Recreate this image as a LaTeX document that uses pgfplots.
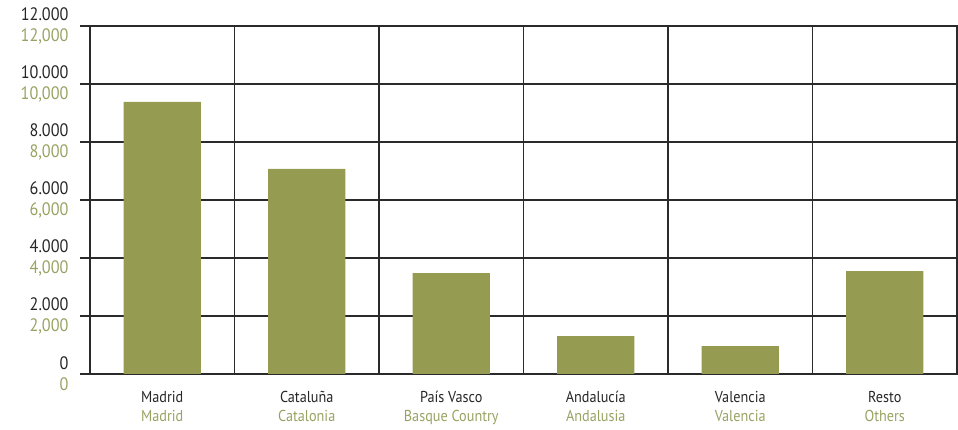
\documentclass[border=0pt]{standalone}
\usepackage{pgfplots}
\pgfplotsset{compat=1.18}
\usepackage{fontspec}
\setmainfont{PT Sans}[FakeStretch=0.9]
\definecolor{barolive}{HTML}{959C52}
\definecolor{labgreen}{HTML}{98A262}
\definecolor{gridgray}{HTML}{2A2A2A}

\begin{document}
\begin{tikzpicture}[x=1pt,y=1pt]
\useasboundingbox (0,0) rectangle (958,430);
\begin{axis}[
    at={(90pt,56pt)}, anchor=south west,
    scale only axis,
    width=867pt, height=348pt,
    xmin=0, xmax=6, ymin=0, ymax=12000,
    scaled y ticks=false,
    axis line style={gridgray, line width=1.1pt},
    xtick={0.5,1.5,2.5,3.5,4.5,5.5},
    xticklabels={
        {Madrid\\\textcolor{labgreen}{Madrid}},
        {Cataluña\\\textcolor{labgreen}{Catalonia}},
        {País Vasco\\\textcolor{labgreen}{Basque Country}},
        {Andalucía\\\textcolor{labgreen}{Andalusia}},
        {Valencia\\\textcolor{labgreen}{Valencia}},
        {Resto\\\textcolor{labgreen}{Others}}},
    xticklabel style={align=center, font=\fontsize{15.8}{19}\selectfont, text=black!85, yshift=-4pt},
    xtick style={draw=none},
    minor xtick={1,2,3,4,5},
    xminorgrids=true,
    minor x grid style={gridgray, line width=1.1pt},
    minor tick length=0pt,
    ytick={0,2000,4000,6000,8000,10000,12000},
    yticklabels={
        {0\\\textcolor{labgreen}{0}},
        {2.000\\\textcolor{labgreen}{2,000}},
        {4.000\\\textcolor{labgreen}{4,000}},
        {6.000\\\textcolor{labgreen}{6,000}},
        {8.000\\\textcolor{labgreen}{8,000}},
        {10.000\\\textcolor{labgreen}{10,000}},
        {12.000\\\textcolor{labgreen}{12,000}}},
    yticklabel style={align=right, font=\fontsize{18}{21}\selectfont, text=black!85, xshift=-8pt},
    ymajorgrids=true,
    major grid style={gridgray, line width=1.1pt},
    ytick pos=left,
    tick align=outside,
    major tick length=10pt,
    ytick style={gridgray, line width=1.1pt},
    ybar, bar width=0.533,
]
\addplot[fill=barolive, draw=none] coordinates {
    (0.5,9380) (1.5,7070) (2.5,3480) (3.5,1310) (4.5,965) (5.5,3550)};
\end{axis}
\end{tikzpicture}
\end{document}
